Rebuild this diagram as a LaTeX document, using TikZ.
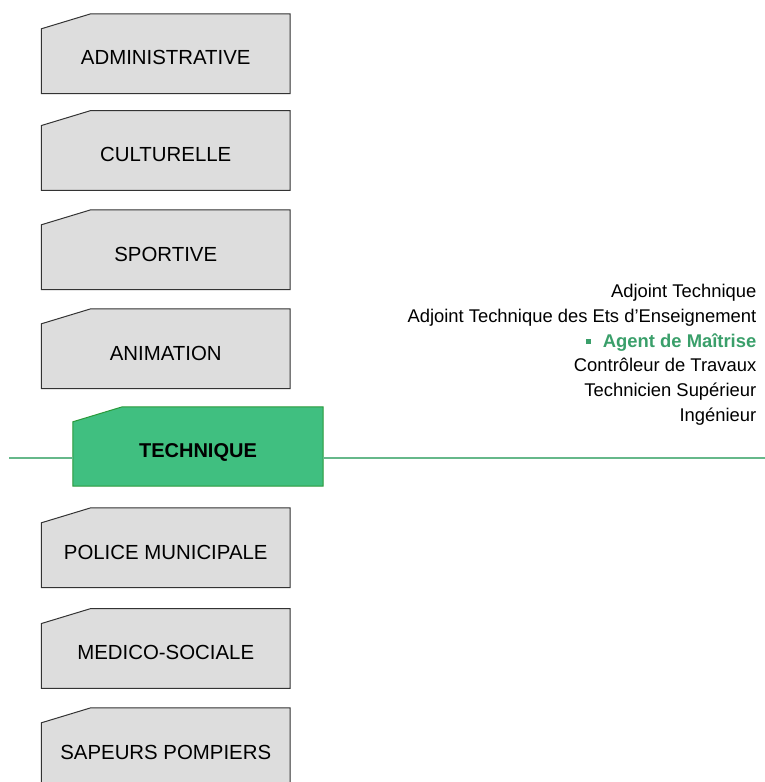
\documentclass[tikz,border=0pt]{standalone}
\usepackage{fontspec}
\setmainfont{Liberation Sans}
\usetikzlibrary{backgrounds}
\definecolor{boxgray}{HTML}{DDDDDD}
\definecolor{boxedge}{HTML}{333333}
\definecolor{techfill}{HTML}{40BF80}
\definecolor{techedge}{HTML}{2A9A3A}
\definecolor{linegreen}{HTML}{66B88A}
\definecolor{textgreen}{HTML}{3A9F6A}
\tikzset{
  catbox/.style={inner sep=0pt, minimum width=248.5bp, minimum height=79.5bp,
    text height=30bp, text depth=7.5bp, font=\fontsize{20.4bp}{24bp}\selectfont},
  techbox/.style={catbox, minimum width=250bp, minimum height=79bp, font=\fontsize{20bp}{24bp}\selectfont\bfseries},
  gradeline/.style={anchor=base east, inner sep=0pt, font=\fontsize{18.4bp}{22bp}\selectfont},
  grayshape/.style={fill=boxgray, draw=boxedge, line width=1bp},
  greenshape/.style={fill=techfill, draw=techedge, line width=1bp},
  axisline/.style={draw=linegreen, line width=1.3bp}
}
\newcommand{\chamfer}[2]{%
  \path[#2] ([yshift=-15bp]#1.north west) -- ([xshift=49.5bp]#1.north west) -- (#1.north east) -- (#1.south east) -- (#1.south west) -- cycle;}
\begin{document}
\begin{tikzpicture}[x=1bp,y=-1bp]
\useasboundingbox (0,0) rectangle (765,782);
\clip (0,0) rectangle (765,782);
\coordinate (lineL) at (9,458);
\coordinate (lineR) at (765,458);
\node[catbox] (admin) at (165.75,53.75) {ADMINISTRATIVE};
\node[catbox] (cult) at (165.75,150.5) {CULTURELLE};
\node[catbox] (sport) at (165.75,249.75) {SPORTIVE};
\node[catbox] (anim) at (165.75,348.75) {ANIMATION};
\node[techbox] (tech) at (198,446.5) {TECHNIQUE};
\node[catbox] (police) at (165.75,547.75) {POLICE MUNICIPALE};
\node[catbox] (medico) at (165.75,648.5) {MEDICO-SOCIALE};
\node[catbox] (sapeurs) at (165.75,747.75) {SAPEURS POMPIERS};
\begin{scope}[on background layer]
  \foreach \n in {admin,cult,sport,anim,police,medico,sapeurs} {\chamfer{\n}{grayshape}}
  \chamfer{tech}{greenshape}
\end{scope}
\draw[axisline] (lineL) -- (lineL -| tech.west);
\draw[axisline] (lineR -| tech.east) -- (lineR);
\node[gradeline] (g1) at (756.5,297.7) {Adjoint Technique};
\node[gradeline] (g2) at (756.5,322.4) {Adjoint Technique des Ets d’Enseignement};
\node[gradeline, text=textgreen, font=\fontsize{18.4bp}{22bp}\selectfont\bfseries] (g3) at (756.5,347.1) {\raisebox{3bp}{\rule{5bp}{5bp}}\hspace{12bp}Agent de Maîtrise};
\node[gradeline] (g4) at (756.5,371.8) {Contrôleur de Travaux};
\node[gradeline] (g5) at (756.5,396.5) {Technicien Supérieur};
\node[gradeline] (g6) at (756.5,421.2) {Ingénieur};
\end{tikzpicture}
\end{document}
